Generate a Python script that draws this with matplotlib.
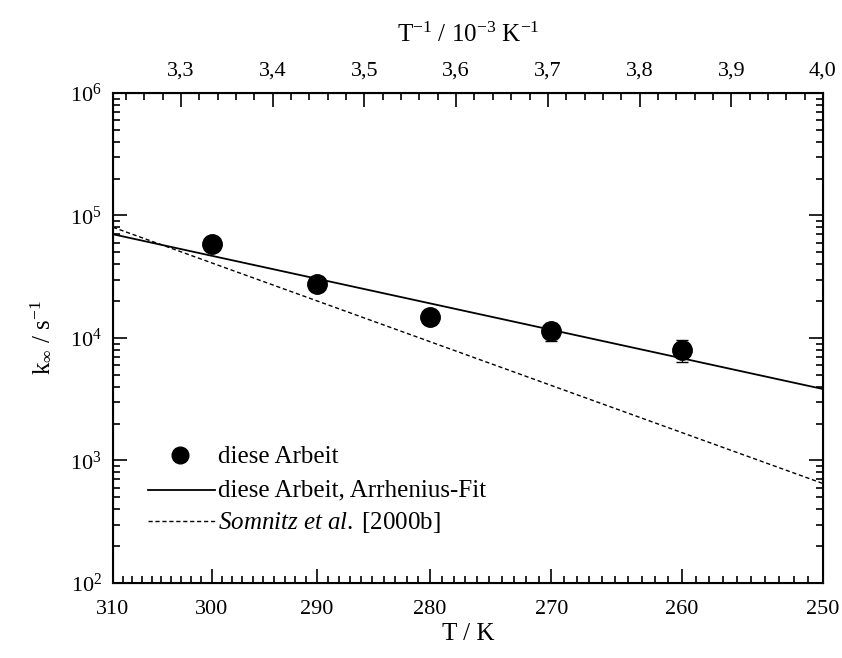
import numpy as np
import matplotlib
matplotlib.use("Agg")
import matplotlib.pyplot as plt
from matplotlib.lines import Line2D
from matplotlib.ticker import FixedLocator, LogLocator, NullFormatter

plt.rcParams['font.family'] = ['Liberation Serif', 'DejaVu Serif']
plt.rcParams['mathtext.fontset'] = 'custom'
plt.rcParams['mathtext.rm'] = 'Liberation Serif'
plt.rcParams['mathtext.it'] = 'Liberation Serif:italic'

# Measured rate constants (this work)
T_meas = np.array([300, 290, 280, 270, 260])
k_meas = np.array([5.85e4, 2.76e4, 1.48e4, 1.14e4, 8.0e3])
k_err = np.array([0.0, 0.0, 0.0, 1.9e3, 1.6e3])

# Somnitz et al. [2000b]: log10 k = a + b * (1000 / T)
somnitz_log_a = 13.62
somnitz_b = -2.702

# Axis ticks
T_major = [310, 300, 290, 280, 270, 260, 250]
inv_major = [3.3, 3.4, 3.5, 3.6, 3.7, 3.8, 3.9, 4.0]
inv_labels = ['3,3', '3,4', '3,5', '3,6', '3,7', '3,8', '3,9', '4,0']

x_meas = 1000.0 / T_meas
fit = np.polyfit(x_meas, np.log10(k_meas), 1)

fig = plt.figure(figsize=(8.42, 6.58), dpi=100)
ax = fig.add_axes([0.1342, 0.114, 0.8432, 0.7447])

xmin, xmax = 1000.0 / 310, 4.0
xx = np.linspace(xmin, xmax, 200)

ax.plot(xx, 10 ** np.polyval(fit, xx), color='black', lw=1.3)
ax.plot(xx, 10 ** (somnitz_log_a + somnitz_b * xx), color='black', lw=1.0,
        dashes=(3, 2))
ax.errorbar(x_meas, k_meas, yerr=k_err, fmt='o', color='black', ms=14,
            capsize=4, elinewidth=1.0, capthick=1.0, zorder=5)

ax.set_yscale('log')
ax.set_ylim(1e2, 1e6)
ax.set_xlim(xmin, xmax)

# bottom axis: temperature labels placed at 1000/T
ax.xaxis.set_major_locator(FixedLocator([1000.0 / t for t in T_major]))
ax.set_xticklabels([str(t) for t in T_major])
ax.xaxis.set_minor_locator(FixedLocator([1000.0 / t for t in range(250, 311)]))
ax.yaxis.set_major_locator(LogLocator(base=10, numticks=10))
ax.yaxis.set_minor_locator(LogLocator(base=10, subs=np.arange(2, 10), numticks=20))
ax.yaxis.set_minor_formatter(NullFormatter())

ax.tick_params(which='both', direction='in', right=True, labelsize=16,
               width=1.2)
ax.tick_params(axis='x', which='major', length=10, pad=12)
ax.tick_params(axis='y', which='major', length=10, pad=8)
ax.tick_params(which='minor', length=5)
for s in ax.spines.values():
    s.set_linewidth(1.5)

# top axis: inverse temperature
ax2 = ax.twiny()
ax2.set_xlim(xmin, xmax)
ax2.xaxis.set_major_locator(FixedLocator(inv_major))
ax2.set_xticklabels(inv_labels)
ax2.xaxis.set_minor_locator(FixedLocator(np.arange(3.24, 4.0, 0.02)))
ax2.tick_params(which='both', direction='in', labelsize=16, width=1.2)
ax2.tick_params(which='major', length=10, pad=9)
ax2.tick_params(which='minor', length=5)

ax.set_xlabel('T / K', fontsize=18, labelpad=3)
ax2.set_xlabel('T$^{-1}$ / 10$^{-3}$ K$^{-1}$', fontsize=18, labelpad=14)
ax.set_ylabel(r'k$_{\infty}$ / s$^{-1}$', fontsize=18, labelpad=12)

# legend
fs = 18
ax.plot([0.0944], [0.261], 'o', color='black', ms=12, transform=ax.transAxes,
        clip_on=False)
ax.text(0.148, 0.257, 'diese Arbeit', fontsize=fs, va='center',
        transform=ax.transAxes)
ax.add_line(Line2D([0.049, 0.144], [0.190, 0.190], color='black', lw=1.3,
                   transform=ax.transAxes))
ax.text(0.148, 0.188, 'diese Arbeit, Arrhenius-Fit', fontsize=fs, va='center',
        transform=ax.transAxes)
ax.add_line(Line2D([0.049, 0.144], [0.126, 0.126], color='black', lw=1.0,
                   dashes=(3, 2), transform=ax.transAxes))
ax.text(0.148, 0.124, r'$\it{Somnitz\ et\ al.}\;\rm{[2000b]}$', fontsize=fs,
        va='center', transform=ax.transAxes)

fig.savefig('out.png', dpi=100)
